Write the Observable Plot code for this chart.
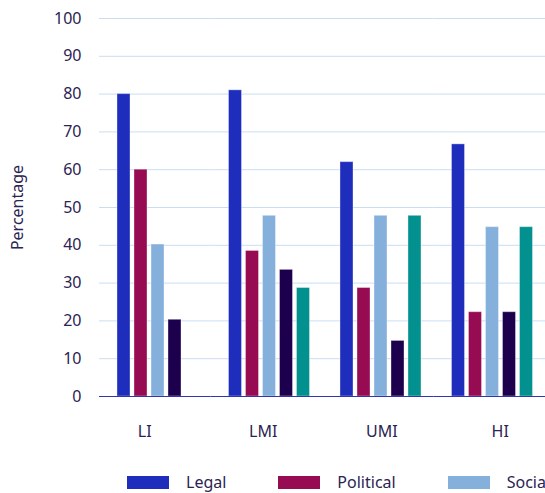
<!DOCTYPE html>
<html><head><meta charset="utf-8">
<script src="https://cdn.jsdelivr.net/npm/d3@7"></script>
<script src="https://cdn.jsdelivr.net/npm/@observablehq/plot@0.6"></script>
<style>
body{margin:0;width:545px;height:493px;overflow:hidden;background:#fff;font-family:"Noto Sans",sans-serif;position:relative}
#legend{position:absolute;left:127px;top:471px;display:flex;white-space:nowrap;align-items:center;font-size:16px;line-height:22px;color:#2b2352}
.item{display:flex;align-items:center;margin-right:52px}
.sw{width:42px;height:13px;margin-right:17px;flex:none}
</style></head><body><div id="chart"></div><div id="legend"></div>
<script>
const groups = ["LI", "LMI", "UMI", "HI"];
const series = ["Legal", "Political", "Social", "Economic", "Cultural"];
const legal = [80, 81, 62, 66.7];
const political = [60, 38.5, 28.7, 22.3];
const social = [40.2, 47.8, 47.8, 44.8];
const economic = [20.3, 33.5, 14.7, 22.3];
const cultural = [null, 28.7, 47.8, 44.8];
const colors = ["#1f2dbd", "#960b52", "#85b0dc", "#1d004d", "#039190"];
const yTicks = [0, 10, 20, 30, 40, 50, 60, 70, 80, 90, 100];

const seriesValues = [legal, political, social, economic, cultural];
const data = [];
groups.forEach((g, i) => series.forEach((s, j) => {
  const v = seriesValues[j][i];
  if (v != null) data.push({group: g, series: s, value: v});
}));

// category labels sit on a slightly wider spacing than the bar groups
const fxLabels = groups.map((g, i) =>
  Plot.text([g], {fx: d => d, text: d => d, frameAnchor: "bottom", lineAnchor: "middle", dy: 35, dx: (i - 1.5) * 7, fill: "#2b2352"})
);

const chart = Plot.plot({
  width: 545, height: 455,
  marginLeft: 99, marginRight: 0, marginTop: 18, marginBottom: 59,
  style: {fontFamily: "'Noto Sans', sans-serif", fontSize: "16px", color: "#2b2352", background: "white"},
  fx: {domain: groups, padding: 0, round: false, axis: null, label: null},
  x: {domain: series, paddingInner: 0.235, paddingOuter: 0.897, align: 0.59, round: false, axis: null},
  y: {domain: [0, 100]},
  color: {domain: series, range: colors},
  marks: [
    Plot.gridY(yTicks, {stroke: "#c9def3", strokeOpacity: 1}),
    Plot.axisY(yTicks, {tickSize: 0, tickPadding: 18, label: "Percentage", labelAnchor: "center", labelOffset: 88, labelArrow: "none"}),
    ...fxLabels,
    Plot.barY(data, {fx: "group", x: "series", y: "value", fill: "series", stroke: "white", strokeOpacity: 0.35, strokeWidth: 1}),
    Plot.ruleY([0], {stroke: "#3036b0", strokeWidth: 1.2})
  ]
});
document.getElementById("chart").appendChild(chart);

const legend = document.getElementById("legend");
series.forEach((s, j) => {
  const item = document.createElement("div");
  item.className = "item";
  const sw = document.createElement("span");
  sw.className = "sw";
  sw.style.background = colors[j];
  const t = document.createElement("span");
  t.textContent = s;
  item.appendChild(sw); item.appendChild(t);
  legend.appendChild(item);
});
</script></body></html>
